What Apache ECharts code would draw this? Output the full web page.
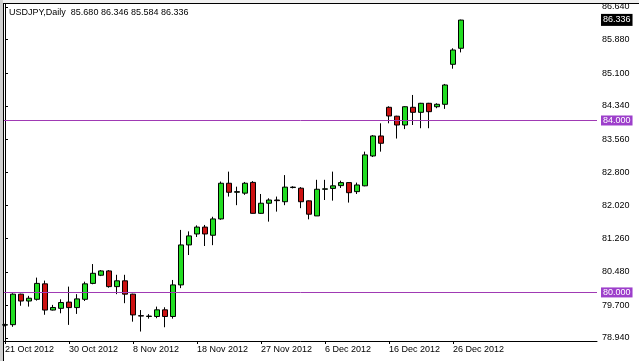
<!DOCTYPE html>
<html>
<head>
<meta charset="utf-8">
<script src="https://cdn.jsdelivr.net/npm/echarts@6/dist/echarts.min.js"></script>
<style>
html,body{margin:0;padding:0;background:#fff;}
#c{width:639px;height:361px;}
</style>
</head>
<body>
<div id="c"></div>
<script>
// ---- data (daily candles, USDJPY) ----
const dates = [
 '21 Oct 2012','22 Oct 2012','23 Oct 2012','24 Oct 2012','25 Oct 2012','26 Oct 2012',
 '28 Oct 2012','29 Oct 2012','30 Oct 2012','31 Oct 2012','1 Nov 2012','2 Nov 2012',
 '4 Nov 2012','5 Nov 2012','6 Nov 2012','7 Nov 2012','8 Nov 2012','9 Nov 2012',
 '11 Nov 2012','12 Nov 2012','13 Nov 2012','14 Nov 2012','15 Nov 2012','16 Nov 2012',
 '18 Nov 2012','19 Nov 2012','20 Nov 2012','21 Nov 2012','22 Nov 2012','23 Nov 2012',
 '25 Nov 2012','26 Nov 2012','27 Nov 2012','28 Nov 2012','29 Nov 2012','30 Nov 2012',
 '2 Dec 2012','3 Dec 2012','4 Dec 2012','5 Dec 2012','6 Dec 2012','7 Dec 2012',
 '9 Dec 2012','10 Dec 2012','11 Dec 2012','12 Dec 2012','13 Dec 2012','14 Dec 2012',
 '16 Dec 2012','17 Dec 2012','18 Dec 2012','19 Dec 2012','20 Dec 2012','21 Dec 2012',
 '23 Dec 2012','24 Dec 2012','26 Dec 2012','27 Dec 2012'
];
const opens = [
 79.24,79.25,79.96,79.80,79.84,80.20,
 79.59,79.63,79.775,79.647,79.84,80.21,
 80.40,80.50,80.135,80.27,79.96,79.46,
 79.44,79.44,79.595,79.44,80.175,81.105,
 81.36,81.52,81.33,81.71,82.54,82.33,
 82.31,82.56,81.84,82.075,82.15,82.11,
 82.44,82.425,82.13,81.78,82.40,82.42,
 82.485,82.555,82.345,82.48,83.175,83.64,
 84.307,84.10,83.895,84.307,84.19,84.40,
 84.32,84.377,85.307,85.680
];
const highs = [
 79.27,79.98,79.97,79.92,80.345,80.275,
 79.71,79.84,80.135,79.96,80.25,80.66,
 80.52,80.52,80.41,80.41,79.97,79.59,
 79.495,79.67,79.655,80.29,81.454,81.42,
 81.56,81.57,81.76,82.58,82.81,82.46,
 82.57,82.59,82.29,82.19,82.23,82.73,
 82.47,82.45,82.14,82.62,82.62,82.81,
 82.60,82.56,82.555,83.275,83.66,83.935,
 84.33,84.11,84.33,84.594,84.41,84.41,
 84.40,84.85,85.68,86.346
];
const lows = [
 79.21,79.20,79.69,79.67,79.81,79.48,
 79.58,79.515,79.245,79.50,79.80,80.19,
 80.38,80.11,79.96,79.75,79.32,79.09,
 79.39,79.40,79.19,79.39,80.10,80.87,
 81.29,81.08,81.10,81.69,82.23,82.03,
 82.27,81.835,81.83,81.647,81.88,82.03,
 82.42,81.96,81.70,81.78,82.15,82.135,
 82.43,82.09,82.29,82.47,83.15,83.275,
 83.935,83.58,83.80,83.895,83.82,83.82,
 84.285,84.27,85.205,85.584
];
const closes = [
 79.25,79.96,79.80,79.865,80.21,79.59,
 79.65,79.765,79.647,79.85,80.20,80.445,
 80.50,80.135,80.27,79.96,79.477,79.45,
 79.45,79.595,79.44,80.175,81.105,81.315,
 81.52,81.36,81.71,82.54,82.33,82.345,
 82.54,81.84,82.075,82.15,82.135,82.45,
 82.45,82.11,81.82,82.40,82.41,82.48,
 82.555,82.32,82.50,83.20,83.64,83.47,
 84.105,83.895,84.32,84.19,84.40,84.205,
 84.377,84.826,85.64,86.336
];
const yTicks = [78.94,79.70,80.48,81.26,82.02,82.80,83.56,84.34,85.10,85.88,86.64];
const xTickIdx = [0,8,16,24,32,40,48,56];
const levelLines = [84.0, 80.0];
const lastPrice = 86.336;
const titleText = 'USDJPY,Daily  85.680 86.346 85.584 86.336';

// ---- chart ----
const FONT = 'Liberation Sans';
const candleData = opens.map((o,i)=>[i, o, closes[i], lows[i], highs[i]]);
const chart = echarts.init(document.getElementById('c'), null, {renderer:'canvas'});
const markData = levelLines.map(v=>({
  yAxis: v,
  lineStyle:{color:'#a03ab4', width:1, type:'solid'},
  label:{show:true, position:'end', distance:4, formatter:v.toFixed(3),
    color:'#fff', backgroundColor:'#9d3fcb', padding:[1,2,0,2],
    fontFamily:FONT, fontSize:9}
}));
markData.push({
  yAxis: lastPrice,
  lineStyle:{color:'rgba(0,0,0,0)', width:1},
  label:{show:true, position:'end', distance:4, formatter:lastPrice.toFixed(3),
    color:'#fff', backgroundColor:'#000', padding:[2,2,1,2],
    fontFamily:FONT, fontSize:9}
});
chart.setOption({
  animation:false,
  backgroundColor:'#fff',
  grid:{left:4, right:42, top:4, bottom:20, containLabel:false},
  xAxis:{
    type:'value', min:-0.125, max:74,
    axisLine:{show:true, onZero:false, lineStyle:{color:'#000', width:1}},
    axisTick:{show:true, length:3, customValues:xTickIdx, lineStyle:{color:'#000'}},
    axisLabel:{show:true, customValues:xTickIdx, align:'left', margin:4,
      formatter:v=>dates[Math.round(v)]||'', color:'#000', fontFamily:FONT, fontSize:9},
    splitLine:{show:false}
  },
  yAxis:{
    type:'value', position:'right', min:78.87, max:86.71, scale:true,
    axisLine:{show:true, lineStyle:{color:'#000', width:1}},
    axisTick:{show:true, length:3, customValues:yTicks, lineStyle:{color:'#000'}},
    axisLabel:{show:true, customValues:yTicks, margin:5,
      formatter:v=>v.toFixed(3), color:'#000', fontFamily:FONT, fontSize:9},
    splitLine:{show:false}
  },
  series:[{
    type:'candlestick',
    data:candleData,
    encode:{x:0, y:[1,2,3,4]},
    barWidth:5,
    itemStyle:{color:'#22dd22', color0:'#cc1111', borderColor:'#000', borderColor0:'#000',
      borderColorDoji:'#000', borderWidth:1},
    markLine:{symbol:'none', silent:true, animation:false, data:markData}
  }],
  graphic:[
    {type:'rect', shape:{x:0,y:0,width:639,height:4}, style:{fill:'#f0f0f0'}, silent:true},
    {type:'rect', shape:{x:0,y:0,width:3,height:361}, style:{fill:'#d0d0d0'}, silent:true},
    {type:'line', shape:{x1:3,y1:3.5,x2:639,y2:3.5}, style:{stroke:'#000', lineWidth:1}, silent:true},
    {type:'line', shape:{x1:3.5,y1:3,x2:3.5,y2:361}, style:{stroke:'#000', lineWidth:1}, silent:true},
    {type:'text', left:9, top:8, style:{text:titleText, fill:'#000', font:'9px "Liberation Sans"'}, silent:true}
  ]
});
</script>
</body>
</html>
